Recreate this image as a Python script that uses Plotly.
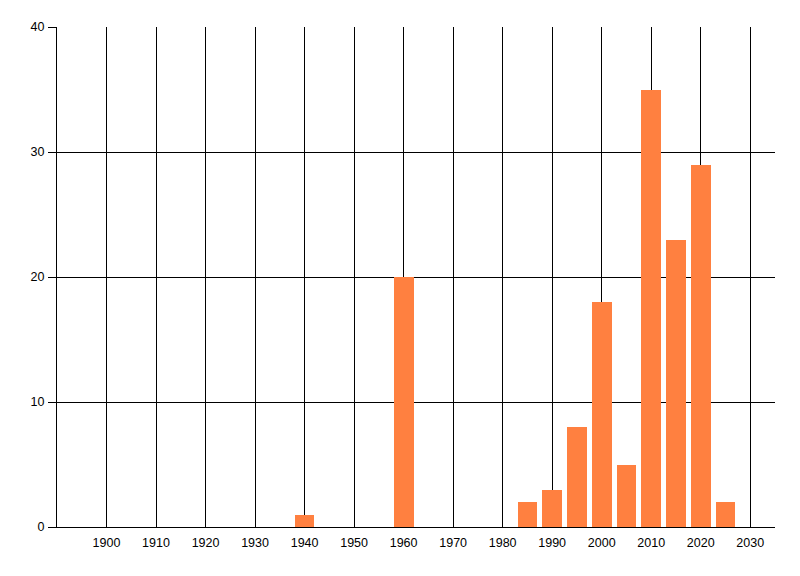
import plotly.graph_objects as go

# decade / half-decade buckets and counts
years = [1940, 1960, 1985, 1990, 1995, 2000, 2005, 2010, 2015, 2020, 2025]
counts = [1, 20, 2, 3, 8, 18, 5, 35, 23, 29, 2]

x_ticks = list(range(1900, 2031, 10))
y_ticks = [0, 10, 20, 30, 40]

fig = go.Figure()
fig.add_trace(go.Bar(x=years, y=counts, width=4, marker=dict(color='#FF8040', line=dict(width=0))))

# page body has an 8px margin, so shift the plot area up/left by that
fig.update_layout(
    width=800, height=576,
    margin=dict(l=49, r=33, t=19, b=57),
    paper_bgcolor='white', plot_bgcolor='white',
    showlegend=False,
    font=dict(family='Liberation Sans Narrow, Liberation Sans', size=12.5, color='black'),
    bargap=0,
)
fig.update_xaxes(range=[1890, 2035], tickvals=x_ticks, ticktext=[str(t) for t in x_ticks],
                 showgrid=True, gridcolor='black', gridwidth=1,
                 showline=True, linecolor='black', linewidth=1,
                 ticks='', ticklabelstandoff=4, zeroline=False)
fig.update_yaxes(range=[0, 40], tickvals=y_ticks,
                 showgrid=True, gridcolor='black', gridwidth=1,
                 showline=True, linecolor='black', linewidth=1,
                 ticks='outside', ticklen=8, tickcolor='black', tickwidth=1,
                 ticklabelstandoff=1, zeroline=False)

fig.write_html("out.html")
